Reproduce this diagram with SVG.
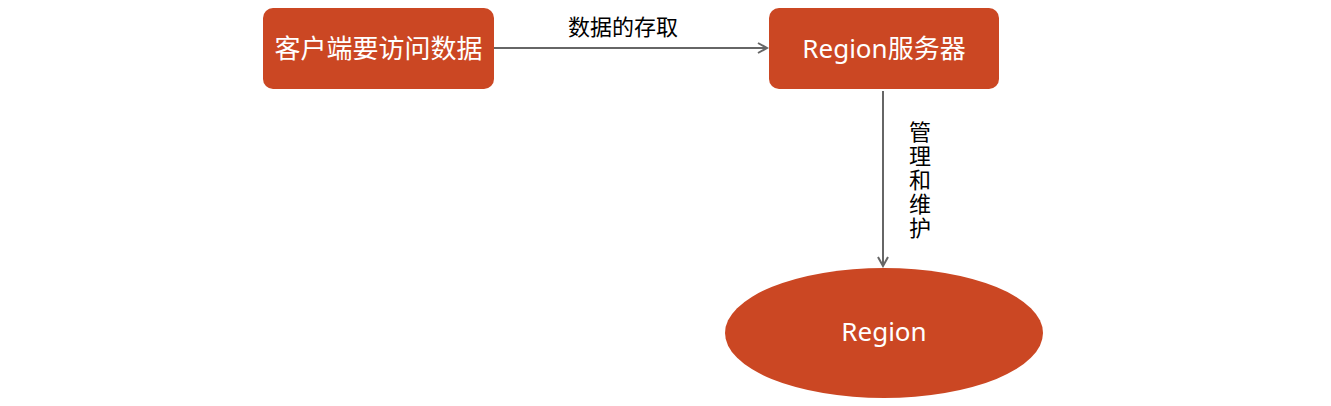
<svg xmlns="http://www.w3.org/2000/svg" width="1331" height="406" viewBox="0 0 1331 406">
<style>
.node{fill:#cb4723;}
.nt{fill:#ffffff;font-family:"Noto Sans","Noto Sans CJK SC",sans-serif;font-size:26px;text-anchor:middle;dominant-baseline:central;}
.lbl{fill:#000000;font-family:"Noto Sans","Noto Sans CJK SC",sans-serif;font-size:22px;text-anchor:middle;}
.edge{stroke:#666666;stroke-width:2;fill:none;}
</style>
<defs>
<marker id="arr" markerWidth="12" markerHeight="12" refX="10" refY="6" orient="auto" markerUnits="userSpaceOnUse">
<path d="M1,1 L10,6 L1,11" fill="none" stroke="#666666" stroke-width="2"/>
</marker>
</defs>
<rect width="1331" height="406" fill="#ffffff"/>
<g id="connectors">
<path class="edge" d="M494,48 L767,48" marker-end="url(#arr)"/>
<path class="edge" d="M883,91 L883,266" marker-end="url(#arr)"/>
<text class="lbl" x="623" y="35">数据的存取</text>
<text class="lbl" x="919" y="181" style="writing-mode:vertical-rl;letter-spacing:2px;">管理和维护</text>
</g>
<g id="client">
<rect class="node" x="263" y="8" width="231" height="81" rx="10"/>
<text class="nt" x="378.5" y="48">客户端要访问数据</text>
</g>
<g id="server">
<rect class="node" x="769" y="8" width="230" height="81" rx="10"/>
<text class="nt" x="884" y="48">Region服务器</text>
</g>
<g id="region">
<ellipse class="node" cx="884" cy="333" rx="159" ry="65"/>
<text class="nt" x="884" y="331">Region</text>
</g>
</svg>
